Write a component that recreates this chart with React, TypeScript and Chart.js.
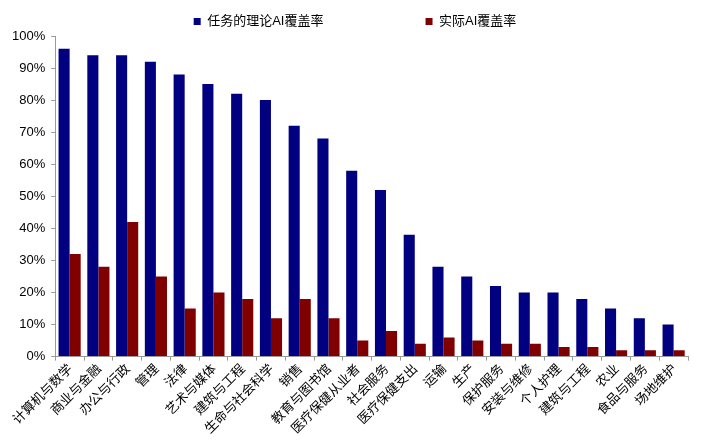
import React, { useRef, useEffect } from 'react';
import { Chart, registerables } from 'chart.js';

Chart.register(...registerables);

const categories = [
  '计算机与数学', '商业与金融', '办公与行政', '管理', '法律', '艺术与媒体',
  '建筑与工程', '生命与社会科学', '销售', '教育与图书馆', '医疗保健从业者',
  '社会服务', '医疗保健支出', '运输', '生产', '保护服务', '安装与维修',
  '个人护理', '建筑与工程', '农业', '食品与服务', '场地维护',
];
const theoretical = [96, 94, 94, 92, 88, 85, 82, 80, 72, 68, 58, 52, 38, 28, 25, 22, 20, 20, 18, 15, 12, 10];
const actual = [32, 28, 42, 25, 15, 20, 18, 12, 18, 12, 5, 8, 4, 6, 5, 4, 4, 3, 3, 2, 2, 2];

const font = '"Liberation Sans", "Noto Sans CJK SC", sans-serif';

// nudge the legend a bit to the right and down, like the original
const legendShift = {
  id: 'legendShift',
  afterLayout(chart: any) {
    if (chart.legend) {
      chart.legend.left += 8;
      chart.legend.right += 8;
      chart.legend.top += 2;
      chart.legend.bottom += 2;
    }
  },
};

const App = () => {
  const canvasRef = useRef<any>(null);
  const chartRef = useRef<any>(null);

  useEffect(() => {
    if (canvasRef.current) {
      const ctx = canvasRef.current.getContext('2d');
      if (chartRef.current) {
        chartRef.current.destroy();
      }
      chartRef.current = new Chart(ctx, {
        type: 'bar',
        data: {
          labels: categories,
          datasets: [
            {
              label: '任务的理论AI覆盖率',
              data: theoretical,
              backgroundColor: '#000080',
              borderWidth: 0,
            },
            {
              label: '实际AI覆盖率',
              data: actual,
              backgroundColor: '#800000',
              borderWidth: 0,
            },
          ],
        },
        plugins: [legendShift],
        options: {
          responsive: false,
          animation: false,
          layout: { padding: { left: 6, right: 14, top: 7, bottom: 6 } },
          plugins: {
            tooltip: { enabled: false },
            legend: {
              position: 'top',
              labels: {
                boxWidth: 7,
                boxHeight: 7,
                padding: 6,
                color: '#000',
                font: { family: font, size: 13 },
                generateLabels: (chart: any) =>
                  Chart.defaults.plugins.legend.labels.generateLabels(chart).map((l: any, i: number) => ({
                    ...l,
                    text: i === 0 ? l.text + '\u3000\u3000\u3000\u3000\u3000\u3000     ' : l.text,
                  })),
              },
            },
          },
          datasets: {
            bar: { categoryPercentage: 0.77, barPercentage: 1 },
          },
          scales: {
            x: {
              grid: {
                display: true,
                drawOnChartArea: false,
                tickLength: 4,
                color: '#999',
              },
              border: { color: '#999' },
              ticks: {
                autoSkip: false,
                maxRotation: 45,
                minRotation: 45,
                color: '#000',
                padding: 0,
                font: { family: '"Noto Sans CJK SC", sans-serif', size: 13 },
              },
            },
            y: {
              min: 0,
              max: 100,
              grid: {
                display: true,
                drawOnChartArea: false,
                tickLength: 4,
                color: '#999',
              },
              border: { color: '#999' },
              ticks: {
                stepSize: 10,
                color: '#000',
                padding: 6,
                font: { family: font, size: 13 },
                callback: (v: any) => v + '%',
              },
            },
          },
        },
      });
    }
    return () => {
      if (chartRef.current) {
        chartRef.current.destroy();
      }
    };
  }, []);

  return (
    <div style={{ position: 'absolute', left: 0, top: 0, width: 702, height: 442, background: '#fff' }}>
      <canvas ref={canvasRef} width={702} height={442} />
    </div>
  );
};

export default App;
